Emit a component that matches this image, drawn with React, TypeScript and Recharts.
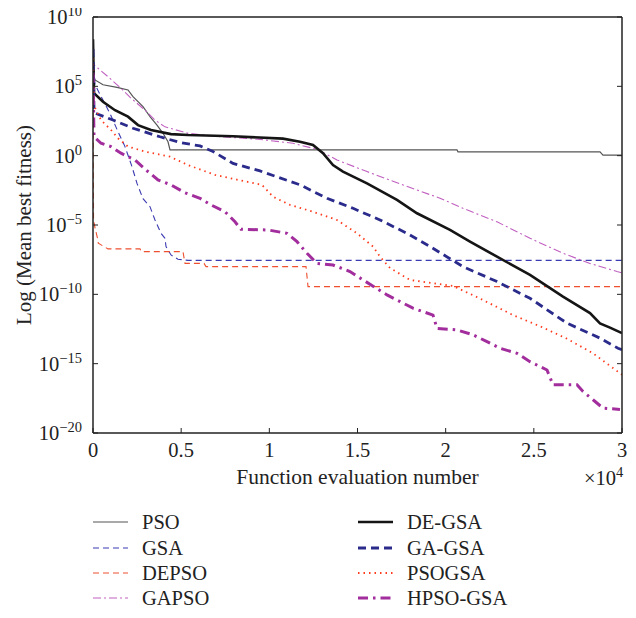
import React from 'react';
import { LineChart, Line, XAxis, YAxis } from 'recharts';

// x values are function evaluations, y values are mean best fitness
const psoX = [0, 113, 567, 1361, 1985, 2268, 2836, 3232, 3629, 3970, 4253, 4367, 20642, 20699, 28752, 28922, 30000];
const psoY = [1e6, 2.9e5, 1.3e5, 8.5e4, 5.5e4, 1.8e4, 3.4e3, 6.5e2, 1.6e2, 41, 10, 2.6, 2.6, 1.9, 1.9, 1.1, 1.1];

const gsaX = [0, 113, 964, 1418, 1815, 2212, 2495, 2836, 3232, 3516, 3856, 4083, 4140, 4423, 4820, 5387, 30000];
const gsaY = [1e7, 1.3e5, 1.1e3, 54, 4.5, 0.16, 0.01, 7.9e-4, 2.1e-4, 2.3e-5, 2.5e-6, 1.1e-6, 2.8e-7, 6.9e-8, 3.4e-8, 2.8e-8, 2.8e-8];

const depsoX = [0, 30, 113, 284, 300, 851, 2665, 2750, 5103, 5217, 6295, 6409, 12080, 12193, 30000];
const depsoY = [1e6, 2.3e-5, 6.3e-6, 7.9e-7, 4.8e-7, 1.9e-7, 1.9e-7, 1.2e-7, 1.2e-7, 1.7e-8, 1.7e-8, 1e-8, 1e-8, 3.6e-10, 3.6e-10];

const gapsoX = [0, 57, 284, 851, 1588, 2155, 2949, 3516, 4083, 5387, 7259, 9471, 11342, 12703, 13837, 15539, 17580, 19678, 20983, 22911, 24782, 26654, 28185, 29716, 30000];
const gapsoY = [1e7, 3.5e6, 2e6, 5e5, 7.2e4, 1.4e4, 1.9e3, 370, 120, 41, 23, 15, 7.8, 2.9, 0.49, 0.071, 7.8e-3, 8.5e-4, 1.6e-4, 1.7e-5, 1.1e-6, 9.1e-8, 1.7e-8, 4.4e-9, 3.5e-9];

const degsaX = [0, 57, 567, 1248, 1985, 2552, 3289, 4423, 5387, 7940, 10775, 11739, 12476, 13043, 13610, 14177, 15538, 17239, 18374, 20245, 21380, 22911, 24782, 26654, 28185, 28752, 29319, 30000];
const degsaY = [2.5e8, 3.2e4, 7.8e3, 1.9e3, 650, 160, 71, 36, 31, 25, 17, 10, 5.9, 1.5, 0.21, 0.071, 0.01, 6.5e-4, 7e-5, 4.4e-6, 6.3e-7, 5.2e-8, 2.5e-9, 6.8e-11, 4.4e-12, 8.1e-13, 4e-13, 1.6e-13];

const gagsaX = [0, 57, 170, 1134, 2268, 3800, 4934, 6068, 6805, 7939, 9470, 11739, 13270, 14745, 16276, 17807, 19111, 20983, 22911, 24782, 26880, 28752, 29773, 30000];
const gagsaY = [5e7, 2.5e3, 1.1e3, 370, 95, 23, 8.9, 5, 2, 0.28, 0.079, 7.9e-3, 8.5e-4, 1.6e-4, 2.3e-5, 2.5e-6, 2.8e-7, 1e-8, 8.3e-10, 5.2e-11, 8.3e-13, 6.9e-14, 1.3e-14, 1e-14];

const psogsaX = [0, 57, 454, 1021, 1418, 1985, 3006, 4367, 5387, 6919, 8223, 9584, 10208, 11172, 12476, 13837, 14971, 15879, 16276, 16843, 17977, 20416, 21947, 23818, 25349, 26880, 28355, 30000];
const psogsaY = [1e7, 4e3, 370, 71, 18, 4.5, 1.9, 0.85, 0.21, 0.041, 0.018, 7.8e-3, 1.1e-3, 2.8e-4, 9.1e-5, 2.3e-5, 2.5e-6, 2.8e-7, 5.2e-8, 7.9e-9, 1.1e-9, 4e-10, 5e-11, 3.2e-12, 5e-13, 6.3e-14, 5.6e-15, 1.6e-16];

const hpsoX = [0, 57, 454, 1021, 1588, 2382, 3006, 3686, 4423, 5217, 6068, 6692, 7486, 8053, 8393, 9924, 11002, 11569, 12136, 12703, 13610, 14574, 15312, 16673, 18147, 19281, 19508, 20642, 21550, 22344, 23081, 24045, 24782, 25746, 26087, 27448, 27788, 28355, 28922, 29886];
const hpsoY = [1e6, 23, 7.8, 4.5, 1.5, 0.49, 0.093, 0.018, 7.8e-3, 2.1e-3, 8.5e-4, 2.8e-4, 9.1e-5, 1.7e-5, 4.9e-6, 4.4e-6, 2.5e-6, 6.3e-7, 9.1e-8, 1.7e-8, 1.3e-8, 4.4e-9, 1.1e-9, 9.1e-11, 1e-11, 3.2e-12, 3.5e-13, 2.7e-13, 1.2e-13, 3.9e-14, 1.3e-14, 5.6e-15, 1.4e-15, 3.5e-16, 3e-17, 3e-17, 9.8e-18, 2.5e-18, 6.2e-19, 5e-19];

const xTicks = [0, 5000, 10000, 15000, 20000, 25000, 30000];
const xTickLabels = ['0', '0.5', '1', '1.5', '2', '2.5', '3'];
const yTicks = [1e-20, 1e-15, 1e-10, 1e-5, 1, 1e5, 1e10];
const yTickExps = ['−20', '−15', '−10', '−5', '0', '5', '10'];

const zip = (xs: number[], ys: number[]) => xs.map((x, i) => ({ x, y: ys[i] }));

const series = [
    { name: 'PSO', data: zip(psoX, psoY), color: '#555555', width: 1.2, dash: undefined },
    { name: 'GSA', data: zip(gsaX, gsaY), color: '#3a3ab2', width: 1.1, dash: '6 4' },
    { name: 'DEPSO', data: zip(depsoX, depsoY), color: '#ee5030', width: 1.1, dash: '6 4' },
    { name: 'GAPSO', data: zip(gapsoX, gapsoY), color: '#c060c0', width: 1.1, dash: '8 3 2 3' },
    { name: 'DE-GSA', data: zip(degsaX, degsaY), color: '#151515', width: 2.6, dash: undefined },
    { name: 'GA-GSA', data: zip(gagsaX, gagsaY), color: '#2b2b8c', width: 2.8, dash: '8 5' },
    { name: 'PSOGSA', data: zip(psogsaX, psogsaY), color: '#ff3b1f', width: 1.8, dash: '1.5 4' },
    { name: 'HPSO-GSA', data: zip(hpsoX, hpsoY), color: '#a22d9c', width: 3, dash: '10 5 2.5 5' },
];

// plot box in page coordinates (the svg sits at the page's top-left corner)
const LEFT = 93;
const TOP = 17;
const RIGHT = 622;
const BOTTOM = 433;
const W = 636;
const H = 500;
const FONT = '"Liberation Serif", "DejaVu Serif", serif';
const INK = '#222';

const LeftTick = (props: any) => {
    const { y, payload } = props;
    const i = yTicks.indexOf(payload.value);
    return (
        <g>
            <line x1={LEFT} x2={LEFT + 5} y1={y} y2={y} stroke={INK} strokeWidth={1} />
            <text x={LEFT - 11} y={y + 7} textAnchor="end" fontSize={20.5} fill={INK} fontFamily={FONT}>
                <tspan>10</tspan>
                <tspan dy={-8} fontSize={14.5}>{yTickExps[i]}</tspan>
            </text>
        </g>
    );
};

const RightTick = (props: any) => {
    const { y } = props;
    return <line x1={RIGHT} x2={RIGHT - 5} y1={y} y2={y} stroke={INK} strokeWidth={1} />;
};

const BottomTick = (props: any) => {
    const { x, payload } = props;
    const i = xTicks.indexOf(payload.value);
    return (
        <g>
            <line x1={x} x2={x} y1={BOTTOM} y2={BOTTOM - 5} stroke={INK} strokeWidth={1} />
            <text x={x} y={BOTTOM + 24} textAnchor="middle" fontSize={20.5} fill={INK} fontFamily={FONT}>
                {xTickLabels[i]}
            </text>
        </g>
    );
};

const TopTick = (props: any) => {
    const { x } = props;
    return <line x1={x} x2={x} y1={TOP} y2={TOP + 5} stroke={INK} strokeWidth={1} />;
};

const XLabel = () => (
    <g fontFamily={FONT} fill={INK}>
        <text x={(LEFT + RIGHT) / 2} y={BOTTOM + 51} textAnchor="middle" fontSize={21.5}>
            Function evaluation number
        </text>
        <text x={584} y={BOTTOM + 52} fontSize={20.5}>
            <tspan>×10</tspan>
            <tspan dy={-8} fontSize={14.5}>4</tspan>
        </text>
    </g>
);

const YLabel = () => (
    <text
        x={24}
        y={(TOP + BOTTOM) / 2}
        transform={`rotate(-90, 24, ${(TOP + BOTTOM) / 2})`}
        textAnchor="middle"
        dominantBaseline="central"
        fontSize={21}
        fill={INK}
        fontFamily={FONT}
    >
        Log (Mean best fitness)
    </text>
);

const Legend = () => {
    const rows = [522, 548, 573, 598];
    return (
        <svg width={W} height={118} style={{ position: 'absolute', left: 0, top: H }}>
            {series.map((s, i) => {
                const col = i < 4 ? 0 : 1;
                const y = rows[i % 4] - H;
                const x0 = col === 0 ? 93 : 358;
                return (
                    <g key={s.name}>
                        <line
                            x1={x0}
                            x2={x0 + 35}
                            y1={y}
                            y2={y}
                            stroke={s.color}
                            strokeWidth={s.width}
                            strokeDasharray={s.dash}
                        />
                        <text x={x0 + 49} y={y + 7} fontSize={20.5} fill={INK} fontFamily={FONT}>
                            {s.name}
                        </text>
                    </g>
                );
            })}
        </svg>
    );
};

export default function App() {
    return (
        <div style={{ position: 'relative', width: W, height: 610, margin: '-8px 0 0 -8px' }}>
            <LineChart
                width={W}
                height={H}
                margin={{ top: TOP - 1, right: W - RIGHT - 1, left: LEFT - 1, bottom: H - BOTTOM - 1 }}
            >
                <XAxis
                    xAxisId={0}
                    dataKey="x"
                    type="number"
                    domain={[0, 30000]}
                    ticks={xTicks}
                    interval={0}
                    height={1}
                    tickSize={0}
                    tick={BottomTick}
                    axisLine={{ stroke: INK, strokeWidth: 1.5 }}
                    label={<XLabel />}
                    allowDataOverflow
                />
                <XAxis
                    xAxisId="top"
                    orientation="top"
                    type="number"
                    domain={[0, 30000]}
                    ticks={xTicks}
                    interval={0}
                    height={1}
                    tickSize={0}
                    tick={TopTick}
                    axisLine={{ stroke: INK, strokeWidth: 1.5 }}
                    allowDataOverflow
                />
                <YAxis
                    yAxisId={0}
                    type="number"
                    scale="log"
                    domain={[1e-20, 1e10]}
                    ticks={yTicks}
                    interval={0}
                    width={1}
                    tickSize={0}
                    tick={LeftTick}
                    axisLine={{ stroke: INK, strokeWidth: 1.5 }}
                    label={<YLabel />}
                    allowDataOverflow
                />
                <YAxis
                    yAxisId="right"
                    orientation="right"
                    type="number"
                    scale="log"
                    domain={[1e-20, 1e10]}
                    ticks={yTicks}
                    interval={0}
                    width={1}
                    tickSize={0}
                    tick={RightTick}
                    axisLine={{ stroke: INK, strokeWidth: 1.5 }}
                    allowDataOverflow
                />
                {series.map(s => (
                    <Line
                        key={s.name}
                        data={s.data}
                        dataKey="y"
                        name={s.name}
                        type="linear"
                        stroke={s.color}
                        strokeWidth={s.width}
                        strokeDasharray={s.dash}
                        dot={false}
                        activeDot={false}
                        isAnimationActive={false}
                    />
                ))}
            </LineChart>
            <Legend />
        </div>
    );
}
